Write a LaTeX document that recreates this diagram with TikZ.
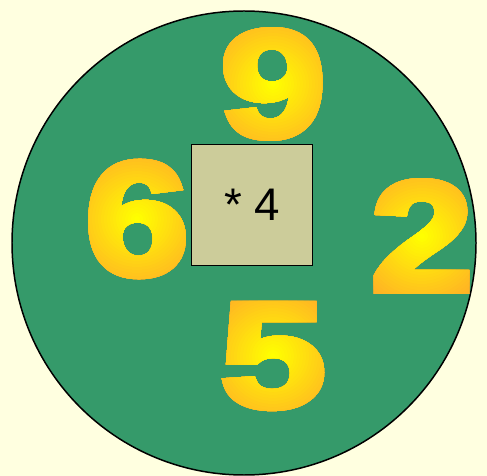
\documentclass[tikz,border=0pt]{standalone}
\usepackage{fontspec}
\usepackage{graphicx}
\setmainfont{Liberation Sans}
\newfontfamily\digitfont[FakeBold=4]{Liberation Sans Bold}
\definecolor{pagebg}{HTML}{FFFFE0}
\definecolor{tablegreen}{HTML}{359A6A}
\definecolor{boxkhaki}{HTML}{CCCC9A}
\definecolor{digityellow}{HTML}{FFFF00}
\definecolor{digitorange}{HTML}{FFA82A}
\tikzset{
    puzzle box/.style={
        draw=black,
        line width=0.8pt,
        fill=boxkhaki,
        minimum size=2.42cm,
        inner sep=0pt,
        font=\fontsize{26}{30}\selectfont
    },
    big digit/.style={
        inner sep=0pt
    }
}
% glyph of a big digit, at a given width and height
\newcommand\bigdigit[3]{\resizebox{#2}{#3}{\digitfont #1}}

\begin{document}
\begin{tikzpicture}[x=0.02cm, y=-0.02cm]
    \fill[pagebg] (0,0) rectangle (487,476);
    \useasboundingbox (0,0) rectangle (487,476);
    \filldraw[fill=tablegreen, draw=black, line width=0.85pt] (244,243) circle[radius=232];
    \node[puzzle box] (box) at (252,205) {* 4};
    % big digits: the same glyph again and again, clipped to smaller
    % and smaller discs, from orange at the rim to yellow in the middle
    \foreach \d/\cx/\cy/\w/\h in {9/273/84/60pt/60.5pt, 6/137/219/59pt/64pt,
                                  2/422/236/58pt/62.4pt, 5/273/356/60pt/58.5pt} {
        \foreach \k in {0,...,27} {
            \pgfmathsetmacro\mix{3.7*\k}
            \begin{scope}
                \clip (\cx,\cy) circle[radius={84-3*\k}];
                \node[big digit, text=digityellow!\mix!digitorange] (digit \d-\k) at (\cx,\cy) {\bigdigit{\d}{\w}{\h}};
            \end{scope}
        }
    }
\end{tikzpicture}
\end{document}
